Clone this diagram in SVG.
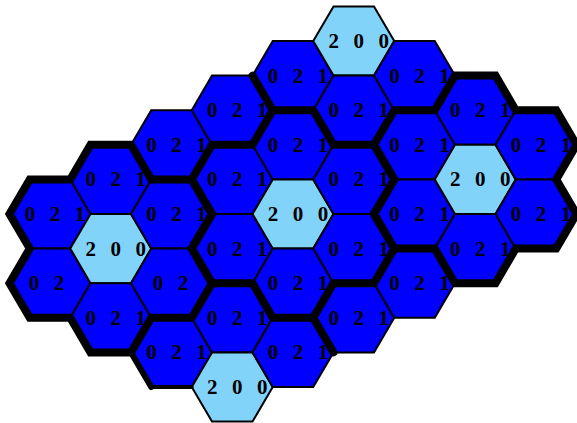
<svg xmlns="http://www.w3.org/2000/svg" xmlns:xlink="http://www.w3.org/1999/xlink" width="577" height="423" viewBox="0 0 577 423">
<style>
.d{fill:#0000FF;stroke:#000;stroke-width:2;stroke-linejoin:miter}
.l{fill:#82D3FA;stroke:#000;stroke-width:2;stroke-linejoin:miter}
text{font-family:"Liberation Serif","Times New Roman",serif;font-weight:bold;font-size:21px;fill:#000;text-anchor:middle;word-spacing:9.25px}
.thick{fill:none;stroke:#000;stroke-width:8;stroke-linejoin:miter;stroke-linecap:round}
</style>
<defs>
<polygon id="hx" points="-40.5,0 -20.25,-34.6 20.25,-34.6 40.5,0 20.25,34.6 -20.25,34.6"/>
<polygon id="fl" points="-20.25,-103.8 20.25,-103.8 40.5,-69.2 81,-69.2 101.25,-34.6 81,0 101.25,34.6 81,69.2 40.5,69.2 20.25,103.8 -20.25,103.8 -40.5,69.2 -81,69.2 -101.25,34.6 -81,0 -101.25,-34.6 -81,-69.2 -40.5,-69.2"/>
</defs>
<rect width="577" height="423" fill="#fff"/>

<g id="c0-h5"><use href="#hx" class="d" x="50" y="214"/><text x="55" y="221">0 2 1</text></g>
<g id="c0-h7"><use href="#hx" class="d" x="50" y="283.2"/><text x="46.5" y="290.2">0 2</text></g>

<g id="c1-h4"><use href="#hx" class="d" x="110.75" y="179.4"/><text x="115.75" y="186.4">0 2 1</text></g>
<g id="c1-h6"><use href="#hx" class="l" x="110.75" y="248.6"/><text x="115.75" y="255.6">2 0 0</text></g>
<g id="c1-h8"><use href="#hx" class="d" x="110.75" y="317.8"/><text x="115.75" y="324.8">0 2 1</text></g>

<g id="c2-h3"><use href="#hx" class="d" x="171.5" y="144.8"/><text x="176.5" y="151.8">0 2 1</text></g>
<g id="c2-h5"><use href="#hx" class="d" x="171.5" y="214"/><text x="176.5" y="221">0 2 1</text></g>
<g id="c2-h7"><use href="#hx" class="d" x="171.5" y="283.2"/><text x="170.5" y="290.2">0 2</text></g>
<g id="c2-h9"><use href="#hx" class="d" x="171.5" y="352.4"/><text x="176.5" y="359.4">0 2 1</text></g>

<g id="c3-h2"><use href="#hx" class="d" x="232.25" y="110.2"/><text x="237.25" y="117.2">0 2 1</text></g>
<g id="c3-h4"><use href="#hx" class="d" x="232.25" y="179.4"/><text x="237.25" y="186.4">0 2 1</text></g>
<g id="c3-h6"><use href="#hx" class="d" x="232.25" y="248.6"/><text x="237.25" y="255.6">0 2 1</text></g>
<g id="c3-h8"><use href="#hx" class="d" x="232.25" y="317.8"/><text x="237.25" y="324.8">0 2 1</text></g>
<g id="c3-h10"><use href="#hx" class="l" x="232.25" y="387"/><text x="237.25" y="394">2 0 0</text></g>

<g id="c4-h1"><use href="#hx" class="d" x="293" y="75.6"/><text x="298" y="82.6">0 2 1</text></g>
<g id="c4-h3"><use href="#hx" class="d" x="293" y="144.8"/><text x="298" y="151.8">0 2 1</text></g>
<g id="c4-h5"><use href="#hx" class="l" x="293" y="214"/><text x="298" y="221">2 0 0</text></g>
<g id="c4-h7"><use href="#hx" class="d" x="293" y="283.2"/><text x="298" y="290.2">0 2 1</text></g>
<g id="c4-h9"><use href="#hx" class="d" x="293" y="352.4"/><text x="298" y="359.4">0 2 1</text></g>

<g id="c5-h0"><use href="#hx" class="l" x="353.75" y="41"/><text x="358.75" y="48">2 0 0</text></g>
<g id="c5-h2"><use href="#hx" class="d" x="353.75" y="110.2"/><text x="358.75" y="117.2">0 2 1</text></g>
<g id="c5-h4"><use href="#hx" class="d" x="353.75" y="179.4"/><text x="358.75" y="186.4">0 2 1</text></g>
<g id="c5-h6"><use href="#hx" class="d" x="353.75" y="248.6"/><text x="358.75" y="255.6">0 2 1</text></g>
<g id="c5-h8"><use href="#hx" class="d" x="353.75" y="317.8"/><text x="358.75" y="324.8">0 2 1</text></g>

<g id="c6-h1"><use href="#hx" class="d" x="414.5" y="75.6"/><text x="419.5" y="82.6">0 2 1</text></g>
<g id="c6-h3"><use href="#hx" class="d" x="414.5" y="144.8"/><text x="419.5" y="151.8">0 2 1</text></g>
<g id="c6-h5"><use href="#hx" class="d" x="414.5" y="214"/><text x="419.5" y="221">0 2 1</text></g>
<g id="c6-h7"><use href="#hx" class="d" x="414.5" y="283.2"/><text x="419.5" y="290.2">0 2 1</text></g>

<g id="c7-h2"><use href="#hx" class="d" x="475.25" y="110.2"/><text x="480.25" y="117.2">0 2 1</text></g>
<g id="c7-h4"><use href="#hx" class="l" x="475.25" y="179.4"/><text x="480.25" y="186.4">2 0 0</text></g>
<g id="c7-h6"><use href="#hx" class="d" x="475.25" y="248.6"/><text x="480.25" y="255.6">0 2 1</text></g>

<g id="c8-h3"><use href="#hx" class="d" x="536" y="144.8"/><text x="541" y="151.8">0 2 1</text></g>
<g id="c8-h5"><use href="#hx" class="d" x="536" y="214"/><text x="541" y="221">0 2 1</text></g>

<g id="cluster-borders">
<use href="#fl" class="thick" x="293" y="214"/>
<use href="#fl" class="thick" x="475.25" y="179.4"/>
<use href="#fl" class="thick" x="110.75" y="248.6"/>
<line class="thick" x1="252.5" y1="75.6" x2="272.75" y2="110.2"/>
<line class="thick" x1="313.25" y1="317.8" x2="333.5" y2="352.4"/>
<line class="thick" x1="131" y1="352.4" x2="151.25" y2="387" style="stroke-width:6"/>
<line class="thick" x1="151.25" y1="387" x2="191.75" y2="387" style="stroke-width:4"/>
</g>
</svg>
